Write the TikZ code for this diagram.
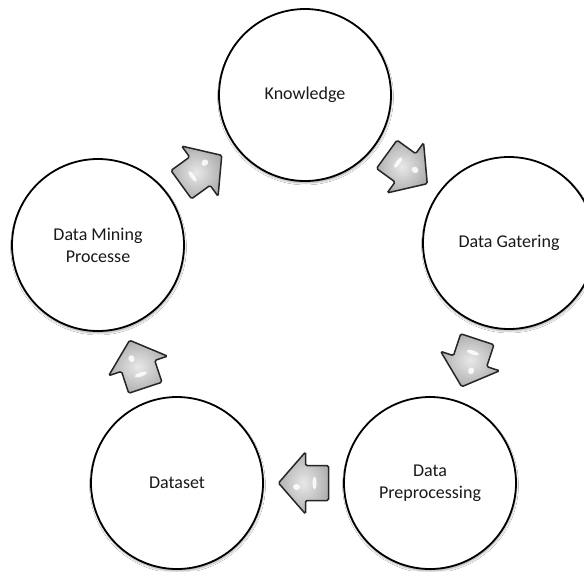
\documentclass[tikz,border=0pt]{standalone}
\usepackage{fontspec}
\setmainfont{Carlito}
\usetikzlibrary{calc,shadows.blur}
\tikzset{
  stage/.style={circle, draw=black, line width=1.8pt, fill=white, minimum size=172pt,
    inner sep=0pt, align=center, font=\fontsize{18}{22}\selectfont, text=black!90,
    blur shadow={shadow xshift=0.5pt, shadow yshift=-2pt, shadow blur steps=6, shadow opacity=35}},
  blockarrow/.style={draw=black!85, line width=1.5pt, rounded corners=1.5pt, shading=radial,
    inner color=gray!18, outer color=gray!62},
  glint/.style={fill=white, draw=none, opacity=0.85},
}
\newcommand{\flowarrow}[2]{%
  \pgfmathanglebetweenpoints{\pgfpointanchor{#1}{center}}{\pgfpointanchor{#2}{center}}%
  \let\arrang\pgfmathresult
  \begin{scope}[shift={($(#1)!0.5!(#2)$)}, rotate=\arrang, x=1pt, y=1pt]
    \draw[blockarrow] (-25,-17.5) -- (-2,-17.5) -- (-2,-31) -- (25,0) -- (-2,31) -- (-2,17.5) -- (-25,17.5) -- cycle;
    \fill[glint] (7,4) ellipse [x radius=3.5, y radius=3];
    \fill[glint] (-11,0) ellipse [x radius=2, y radius=6.5];
  \end{scope}}
\begin{document}
\begin{tikzpicture}[x=1pt, y=-1pt]
  \useasboundingbox (0,0) rectangle (584,571);
  \clip (0,0) rectangle (584,571);
  \fill[white] (0,0) rectangle (584,571);
  \node[stage] (K) at (305,95) {Knowledge};
  \node[stage] (G) at (509,243) {Data Gatering};
  \node[stage] (P) at (430,483) {Data\\Preprocessing};
  \node[stage] (D) at (177,483) {Dataset};
  \node[stage] (M) at (98,245) {Data Mining\\Processe};
  \flowarrow{M}{K}
  \flowarrow{K}{G}
  \flowarrow{G}{P}
  \flowarrow{P}{D}
  \flowarrow{D}{M}
\end{tikzpicture}
\end{document}
